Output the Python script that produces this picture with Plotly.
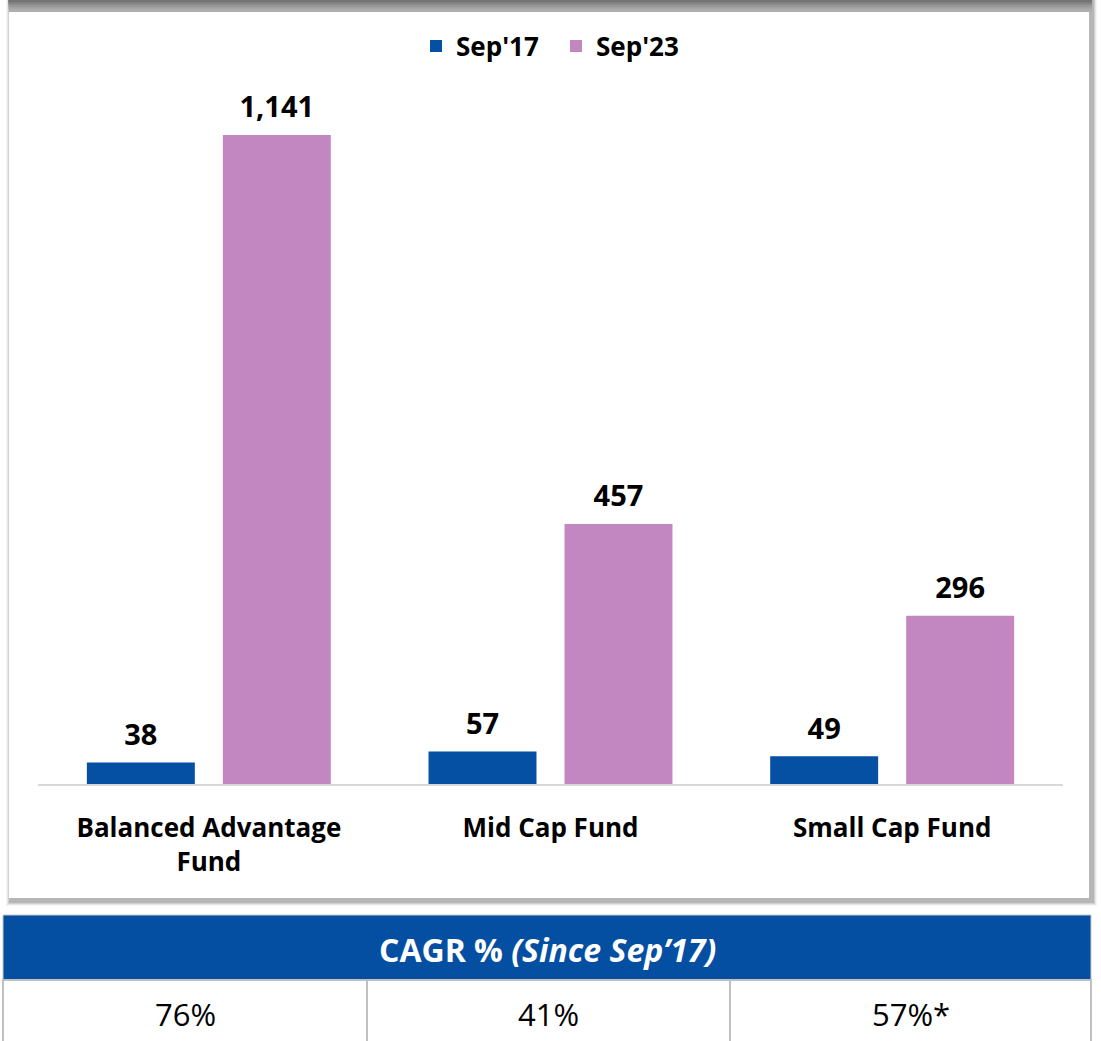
import plotly.graph_objects as go

categories = ["Balanced Advantage<br>Fund", "Mid Cap Fund", "Small Cap Fund"]
sep17 = [38, 57, 49]
sep23 = [1141, 457, 296]
series_names = ["Sep'17", "Sep'23"]
cagr_header = "CAGR % <i>(Since Sep’17)</i>"
cagr_values = ["76%", "41%", "57%*"]

BLUE = "#0550a3"
PINK = "#c287c0"
FONT = "Open Sans"

W, H = 1101, 1041


def px(x):
    return x / W


def py(y):
    return 1 - y / H


fig = go.Figure()
series = [(series_names[0], sep17, BLUE, "g1"), (series_names[1], sep23, PINK, "g2")]
for name, vals, col, grp in series:
    fig.add_trace(go.Bar(
        x=categories, y=vals, name=name, marker_color=col, marker_line_width=0,
        offsetgroup=grp, hoverinfo="x+y",
    ))
# value labels, placed above each bar through the same grouped scale
for name, vals, col, grp in series:
    fig.add_trace(go.Scatter(
        x=categories, y=vals, mode="markers+text", text=[f"{v:,}" for v in vals],
        textposition="top center", marker=dict(size=15, opacity=0, color=col),
        offsetgroup=grp, showlegend=False, cliponaxis=False, hoverinfo="skip",
        textfont=dict(family=FONT, size=29, color="black", weight="bold"),
    ))

shapes = []


def rect(x0, y0, x1, y1, fill, layer="below", line=None):
    d = dict(type="rect", xref="paper", yref="paper",
             x0=px(x0), x1=px(x1), y0=py(y1), y1=py(y0),
             fillcolor=fill, layer=layer)
    if line is None:
        d["line_width"] = 0
    else:
        d["line"] = line
    return d


# soft drop shadow of chart box
for i, op in enumerate([0.05, 0.08, 0.12, 0.18]):
    g = 4 - i
    shapes.append(rect(8 - g + 2, 0, 1093 + g, 902 + g, f"rgba(60,60,60,{op})"))
# top shadow band
for i, op in enumerate([0.05, 0.08, 0.12, 0.18, 0.25]):
    shapes.append(rect(8, 0, 1092, 12 - 2.4 * i, f"rgba(60,60,60,{op})"))
shapes.append(rect(9, 12, 1089, 898, "white"))

# table header
shapes.append(rect(3, 915, 1091, 980, "#054fa3", layer="above",
                   line=dict(color="#c8c8c8", width=1)))
# table cells
cell_edges = [3, 367, 730, 1091]
for i in range(3):
    shapes.append(rect(cell_edges[i], 980, cell_edges[i + 1], 1046, "white", layer="above",
                       line=dict(color="#c0c0c0", width=2)))

annotations = [dict(xref="paper", yref="paper", x=px(547), y=py(949), text=cagr_header,
                    showarrow=False, font=dict(family=FONT, size=32, color="white", weight="bold"),
                    xanchor="center", yanchor="middle")]
for i, v in enumerate(cagr_values):
    annotations.append(dict(xref="paper", yref="paper", x=px((cell_edges[i] + cell_edges[i + 1]) / 2),
                            y=py(1014), text=v, showarrow=False,
                            font=dict(family=FONT, size=31, color="black"),
                            xanchor="center", yanchor="middle"))

fig.update_layout(
    width=W, height=H, paper_bgcolor="white", plot_bgcolor="rgba(0,0,0,0)",
    margin=dict(l=0, r=0, t=0, b=0, autoexpand=False),
    barmode="group", bargap=0.204, bargroupgap=0.206,
    scattermode="group", scattergap=0.204,
    font=dict(family=FONT, color="black"),
    legend=dict(orientation="h", x=px(556), xanchor="center", y=py(46),
                yanchor="middle", font=dict(family=FONT, size=26, color="black", weight="bold"),
                traceorder="normal", bgcolor="rgba(0,0,0,0)", itemwidth=30,
                entrywidth=95, entrywidthmode="pixels"),
    showlegend=True,
    shapes=shapes, annotations=annotations,
    xaxis=dict(domain=[px(38), px(1063)], showline=True, linecolor="#d9d9d9", linewidth=2,
               ticks="", ticklabelstandoff=20, automargin=False,
               tickfont=dict(family=FONT, size=26, color="black", weight="bold")),
    yaxis=dict(domain=[py(784), py(100)], visible=False, range=[0, 1202.5],
               showgrid=False, zeroline=False, automargin=False),
)
fig.write_html("out.html", post_script="document.body.style.margin='0';",
               config={"displayModeBar": False})
